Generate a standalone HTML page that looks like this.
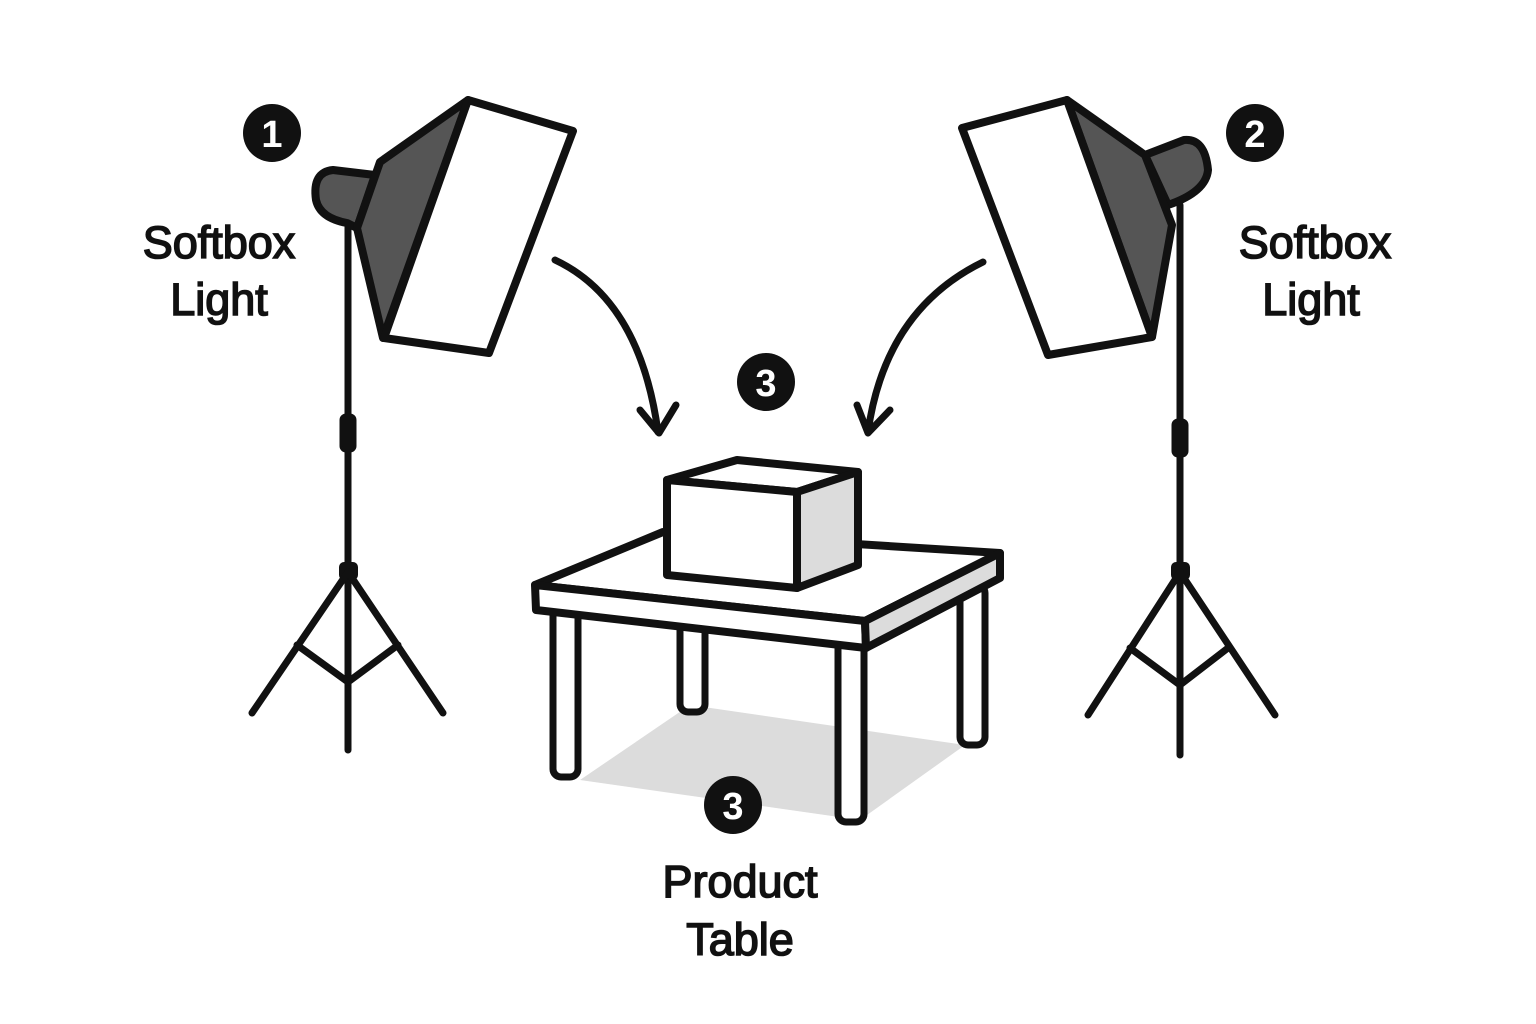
<!DOCTYPE html>
<html><head><meta charset="utf-8"><style>
html,body{margin:0;padding:0;background:#fff;}
svg{display:block}
text{font-family:"Liberation Sans",sans-serif;}
</style></head><body>
<svg width="1536" height="1024" viewBox="0 0 1536 1024" xmlns="http://www.w3.org/2000/svg">
<rect width="1536" height="1024" fill="#fff"/>
<g stroke="#111" stroke-linecap="round" stroke-linejoin="round" fill="none">
<line x1="348" y1="225" x2="348" y2="750" stroke-width="7"/>
<rect x="341" y="415" width="14" height="36" rx="5" fill="#111" stroke-width="3"/>
<rect x="340" y="563" width="17" height="16" rx="4" fill="#111" stroke-width="2"/>
<polyline points="252,713 348,572 443,713" stroke-width="7"/>
<polyline points="297,645 348,682 398,645" stroke-width="7"/>
<line x1="1180" y1="205" x2="1180" y2="755" stroke-width="7"/>
<rect x="1173" y="420" width="14" height="36" rx="5" fill="#111" stroke-width="3"/>
<rect x="1172" y="563" width="17" height="16" rx="4" fill="#111" stroke-width="2"/>
<polyline points="1088,715 1180,572 1275,715" stroke-width="7"/>
<polyline points="1130,648 1180,685 1228,648" stroke-width="7"/>
<path d="M375,175 L333,170 Q312,172 316,200 Q320,218 347,223 L357,228 Z" fill="#555" stroke-width="8"/>
<polygon points="468,100 380,162 357,228 383,338" fill="#555" stroke-width="8"/>
<polygon points="468,100 573,131 489,353 384,338" fill="#fff" stroke-width="8"/>
<path d="M1145,155 L1184,140 Q1205,138 1208,170 Q1206,192 1168,205 Z" fill="#555" stroke-width="8"/>
<polygon points="1067,100 1145,155 1172,225 1152,337" fill="#555" stroke-width="8"/>
<polygon points="962,128 1067,100 1152,337 1048,355" fill="#fff" stroke-width="8"/>
<path d="M555,260 Q640,300 658,432" stroke-width="7"/>
<polyline points="640,410 659,433 676,405" stroke-width="7"/>
<path d="M983,262 Q885,310 868,432" stroke-width="7"/>
<polyline points="857,405 868,433 890,410" stroke-width="7"/>
<polygon points="580,780 690,705 965,745 860,820" fill="#dcdcdc" stroke="none"/>
<rect x="680" y="615" width="25" height="97" rx="8" fill="#fff" stroke-width="7"/>
<rect x="960" y="585" width="25" height="160" rx="8" fill="#fff" stroke-width="7"/>
<rect x="553" y="605" width="25" height="172" rx="8" fill="#fff" stroke-width="7"/>
<rect x="838" y="640" width="26" height="182" rx="8" fill="#fff" stroke-width="7"/>
<polygon points="535,585 663,532 1000,553 865,621" fill="#fff" stroke-width="8"/>
<polygon points="535,585 865,621 866,648 536,610" fill="#fff" stroke-width="8"/>
<polygon points="865,621 1000,553 1000,578 866,648" fill="#dcdcdc" stroke-width="8"/>
<polygon points="667,480 737,460 858,472 797,492" fill="#fff" stroke-width="8"/>
<polygon points="667,480 797,492 797,588 667,575" fill="#fff" stroke-width="8"/>
<polygon points="797,492 858,472 858,565 797,588" fill="#dcdcdc" stroke-width="8"/>
</g>
<g fill="#111">
<circle cx="272" cy="133" r="29"/><circle cx="1255" cy="133" r="29"/>
<circle cx="766" cy="382" r="29"/><circle cx="733" cy="805" r="29"/>
</g>
<g fill="#fff" font-size="38" font-weight="bold" text-anchor="middle">
<text x="272" y="147">1</text><text x="1255" y="147">2</text>
<text x="766" y="396">3</text><text x="733" y="819">3</text>
</g>
<g fill="#111" stroke="#111" stroke-width="1.6" font-size="45" text-anchor="middle">
<text x="219" y="258">Softbox</text><text x="219" y="315">Light</text>
<text x="1315" y="258">Softbox</text><text x="1311" y="315">Light</text>
<text x="740" y="897">Product</text><text x="740" y="955">Table</text>
</g>
</svg>
</body></html>
